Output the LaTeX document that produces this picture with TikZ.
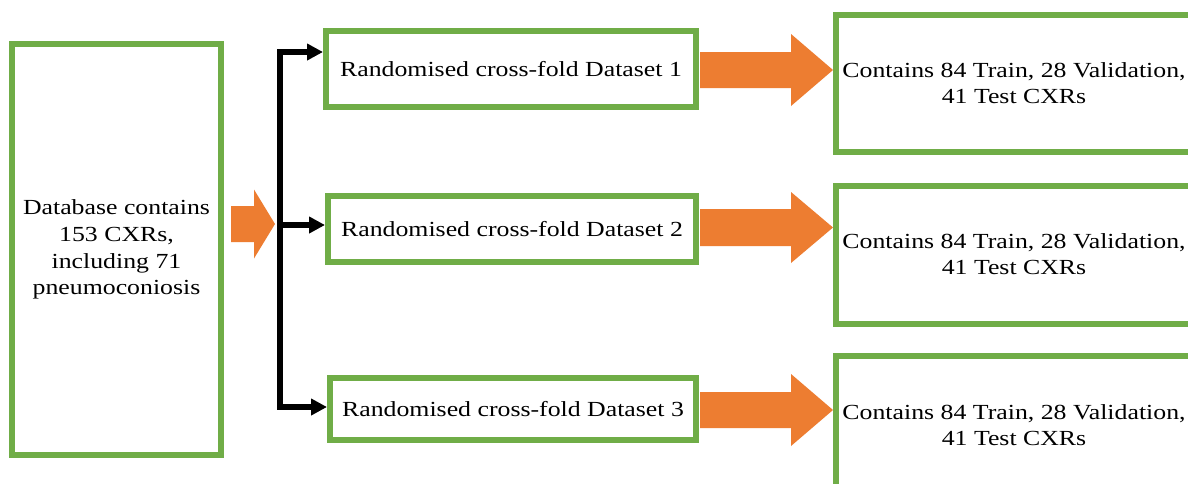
\documentclass[tikz,border=0pt]{standalone}
\usepackage{fontspec}
\setmainfont{Liberation Serif}[FakeStretch=1.2]
\usetikzlibrary{arrows.meta,calc}
\definecolor{greenA}{HTML}{70AD47}
\definecolor{orangeA}{HTML}{ED7D31}
\newcommand{\blockarrow}[5]{% #1 start, #2 tip, #3 half shaft, #4 half head, #5 head length
  \fill[orangeA] ($(#1)+(0,-#3)$) -- ($(#2)+(-#5,-#3)$) -- ($(#2)+(-#5,-#4)$) -- (#2)
    -- ($(#2)+(-#5,#4)$) -- ($(#2)+(-#5,#3)$) -- ($(#1)+(0,#3)$) -- cycle;}
\begin{document}
\begin{tikzpicture}[x=1pt,y=-1pt,
  gbox/.style={draw=greenA,line width=6pt,inner sep=0pt,fill=white},
  txt/.style={font=\fontsize{21.5}{26.7}\selectfont,align=center,inner sep=0pt},
  conn/.style={line width=6pt,line join=miter,-{Triangle[length=16pt,width=16pt]}}]
\clip (0,0) rectangle (1188,483);
\fill[white] (0,0) rectangle (1188,483);
% left box
\node[gbox,txt,minimum width=209pt,minimum height=411pt] (L) at (116.5,249.5)
  {Database contains\\153 CXRs,\\including 71\\pneumoconiosis};
% middle boxes
\node[gbox,txt,minimum width=370pt,minimum height=76pt] (b1) at (511,69) {Randomised cross-fold Dataset 1};
\node[gbox,txt,minimum width=368pt,minimum height=66pt] (b2) at (512,229) {Randomised cross-fold Dataset 2};
\node[gbox,txt,minimum width=366pt,minimum height=62pt] (b3) at (513,409) {Randomised cross-fold Dataset 3};
% right boxes (cut off by the frame)
\node[gbox,minimum width=370pt,minimum height=137pt] (r1) at (1021,83.5) {};
\node[gbox,minimum width=370pt,minimum height=138pt] (r2) at (1021,255) {};
\node[gbox,minimum width=370pt,minimum height=138pt] (r3) at (1021,425) {};
\node[txt] (t1) at (1014,83) {Contains 84 Train, 28 Validation,\\41 Test CXRs};
\node[txt] (t2) at (1014,254) {Contains 84 Train, 28 Validation,\\41 Test CXRs};
\node[txt] (t3) at (1014,425) {Contains 84 Train, 28 Validation,\\41 Test CXRs};
% junction and black connectors
\coordinate (jm) at (280,225);
\draw[conn] (jm) |- ($(b1.west)+(0,-17)$);
\draw[conn] (jm) -- (b2.west |- jm);
\draw[conn] (jm) |- ($(b3.west)+(0,-2)$);
% orange block arrows
\coordinate (s0) at ($(L.east |- 0,224)+(7,0)$);
\coordinate (e0) at ($(jm |- 0,224)+(-5,0)$);
\blockarrow{s0}{e0}{18}{34.5}{21}
\coordinate (s1) at ($(b1.east |- 0,70)+(1,0)$);
\coordinate (e1) at (r1.west |- 0,70);
\blockarrow{s1}{e1}{18}{36}{42}
\coordinate (s2) at ($(b2.east |- 0,227.5)+(1,0)$);
\coordinate (e2) at (r2.west |- 0,227.5);
\blockarrow{s2}{e2}{18.5}{35.5}{42}
\coordinate (s3) at ($(b3.east |- 0,410)+(1,0)$);
\coordinate (e3) at (r3.west |- 0,410);
\blockarrow{s3}{e3}{18}{36}{42}
\end{tikzpicture}
\end{document}
